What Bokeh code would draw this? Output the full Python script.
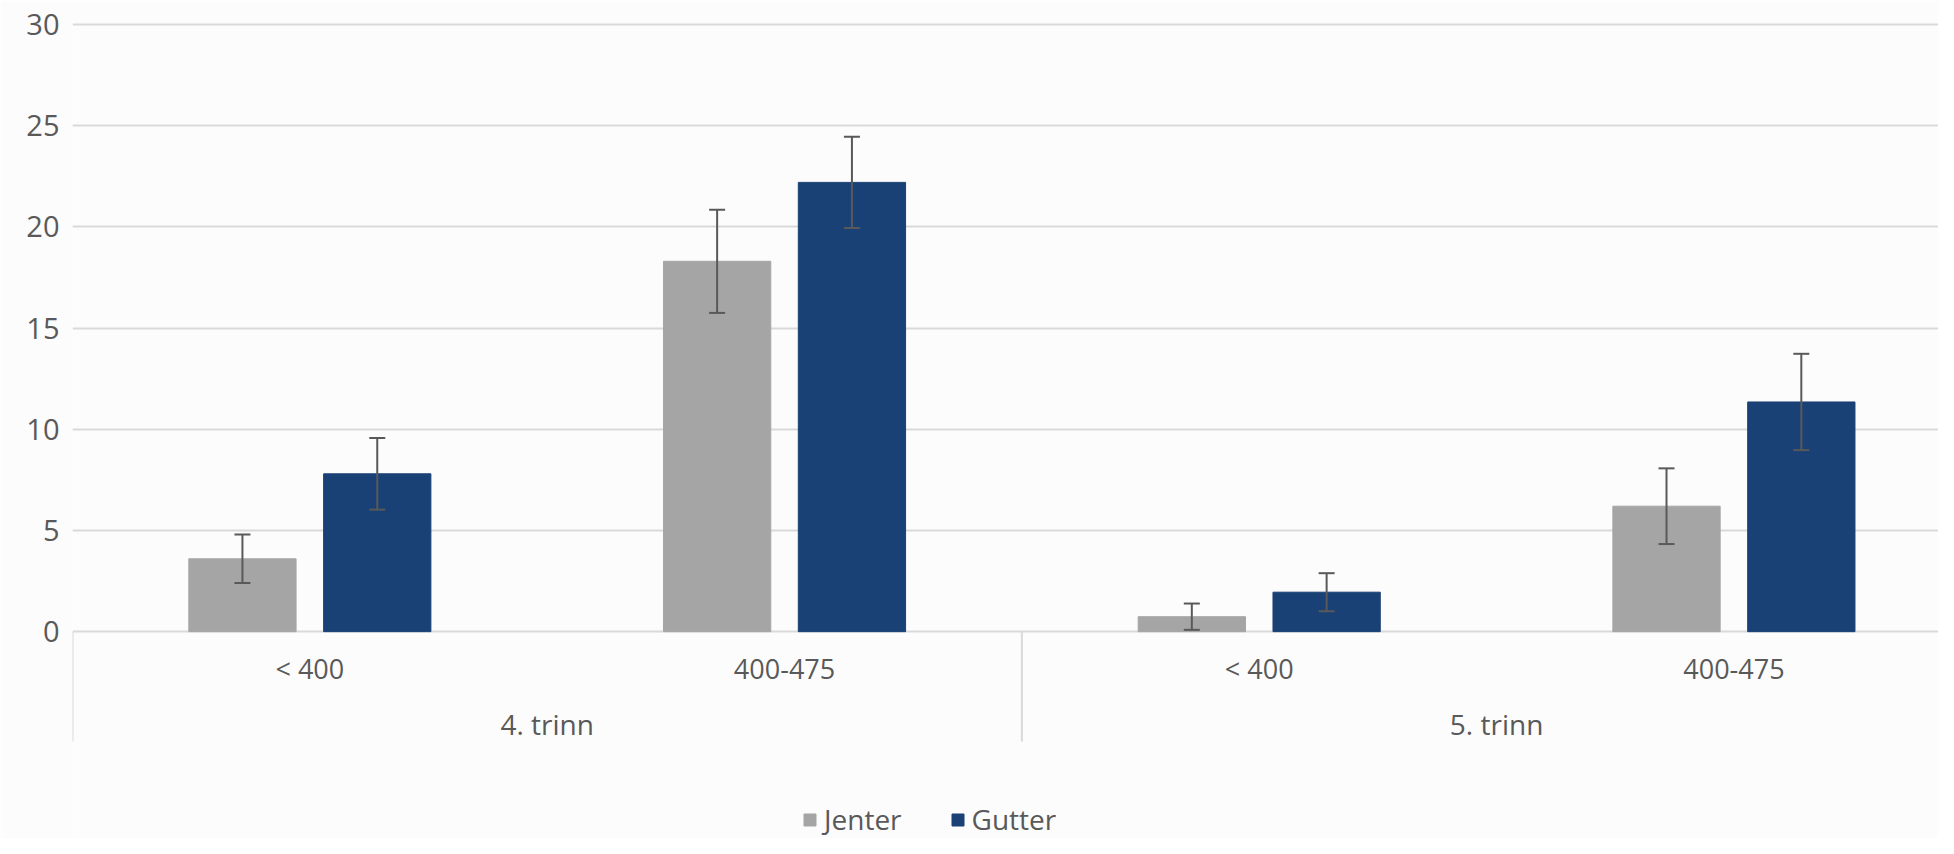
from bokeh.plotting import figure
from bokeh.models import Range1d, FixedTicker, ColumnDataSource, Whisker, TeeHead
from bokeh.transform import dodge
from bokeh.core.properties import value
from bokeh.embed import file_html
from bokeh.resources import INLINE

# ---- data ----
groups = ["4. trinn", "5. trinn"]
trinn = ["4. trinn", "4. trinn", "5. trinn", "5. trinn"]
score = ["< 400", "400-475", "< 400", "400-475"]
jenter = [3.6, 18.3, 0.74, 6.2]
jenter_err = [1.2, 2.55, 0.65, 1.87]
gutter = [7.8, 22.2, 1.95, 11.35]
gutter_err = [1.77, 2.25, 0.94, 2.38]
y_ticks = [0, 5, 10, 15, 20, 25, 30]

# ---- style ----
FONT = "Open Sans"
TXT = "#595959"
GRID = "#d9d9d9"
C_J = "#A5A5A5"
C_G = "#1A4175"
OFF = 0.142
BW = 0.226

xs = [i + 0.5 for i in range(len(score))]
src = ColumnDataSource(dict(
    x=xs, score=score,
    jenter=jenter, j_up=[v + e for v, e in zip(jenter, jenter_err)], j_lo=[v - e for v, e in zip(jenter, jenter_err)],
    gutter=gutter, g_up=[v + e for v, e in zip(gutter, gutter_err)], g_lo=[v - e for v, e in zip(gutter, gutter_err)],
))

p = figure(width=1938, height=838, output_backend="svg", toolbar_location=None,
           x_range=Range1d(0, 3.931), y_range=Range1d(-10.22, 30.1),
           x_axis_location=None, min_border_left=72, min_border_top=22,
           min_border_right=0, min_border_bottom=0)
p.background_fill_color = "#fcfcfc"
p.border_fill_color = "#fcfcfc"
p.outline_line_color = None
p.xgrid.visible = False

ax = p.yaxis[0]
ax.ticker = FixedTicker(ticks=y_ticks)
ax.axis_line_color = None
ax.major_tick_line_color = None
ax.minor_tick_line_color = None
ax.major_tick_out = 0
ax.major_tick_in = 0
ax.major_label_standoff = 13
ax.major_label_text_font = FONT
ax.major_label_text_font_size = "29px"
ax.major_label_text_color = TXT
p.ygrid.grid_line_color = GRID
p.ygrid.grid_line_width = 2

p.vbar(x=dodge("x", -OFF), top="jenter", bottom=0, width=BW, source=src,
       fill_color=C_J, line_color=C_J, legend_label="Jenter")
p.vbar(x=dodge("x", OFF), top="gutter", bottom=0, width=BW, source=src,
       fill_color=C_G, line_color=C_G, legend_label="Gutter")

for off, up, lo in [(-OFF, "j_up", "j_lo"), (OFF, "g_up", "g_lo")]:
    w = Whisker(source=src, base=dodge("x", off), upper=up, lower=lo,
                line_color=TXT, line_width=2, level="overlay",
                upper_head=TeeHead(size=16, line_color=TXT, line_width=2),
                lower_head=TeeHead(size=16, line_color=TXT, line_width=2))
    p.add_layout(w)

# category labels
p.text(x="x", y=-1.83, text="score", source=src, text_font=value(FONT),
       text_font_size="27px", text_color=TXT, text_align="center", text_baseline="middle")
gx = [sum(x for x, t in zip(xs, trinn) if t == g) / trinn.count(g) for g in groups]
p.text(x=gx, y=[-4.55] * len(groups), text=groups, text_font=value(FONT),
       text_font_size="28px", text_color=TXT, text_align="center", text_baseline="middle")

# group separators
bounds = [0]
for g in groups:
    bounds.append(bounds[-1] + trinn.count(g))
p.segment(x0=bounds, y0=[0] * len(bounds), x1=bounds, y1=[-5.43] * len(bounds),
          line_color=GRID, line_width=2)

lg = p.legend[0]
lg.orientation = "horizontal"
lg.location = (730, 0)
lg.border_line_color = None
lg.background_fill_alpha = 0
lg.padding = 0
lg.margin = 0
lg.spacing = 48
lg.label_standoff = 7
lg.glyph_width = 15
lg.glyph_height = 15
lg.label_text_font = FONT
lg.label_text_font_size = "28px"
lg.label_text_color = TXT

open("out.html", "w").write(file_html(p, INLINE))
